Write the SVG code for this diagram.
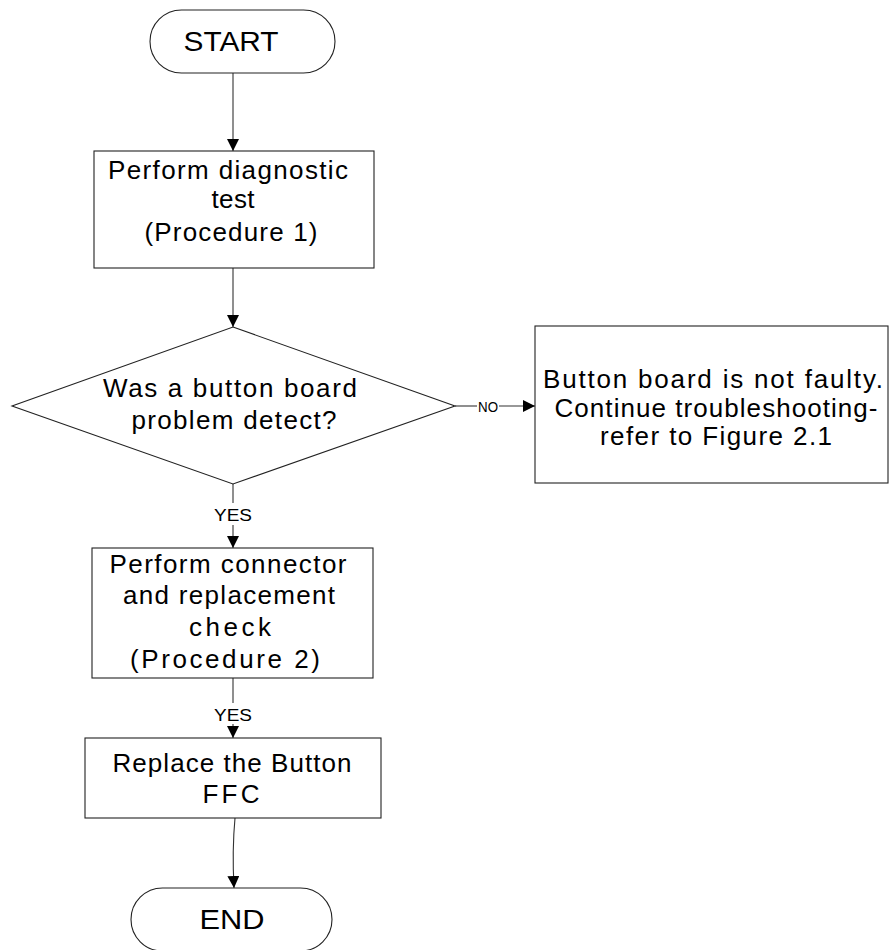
<svg xmlns="http://www.w3.org/2000/svg" width="890" height="950" viewBox="0 0 890 950">
<defs>
<marker id="arr" markerUnits="userSpaceOnUse" markerWidth="14" markerHeight="12" refX="12" refY="6" orient="auto">
<path d="M0,0 L12,6 L0,12 Z" fill="#000"/>
</marker>
<style>
.shape{fill:#fff;stroke:#222;stroke-width:1.1}
.t{font-family:"Liberation Sans",Arial,sans-serif;font-size:26px;fill:#000;text-anchor:middle}
.s{font-family:"Liberation Sans",Arial,sans-serif;font-size:16px;fill:#000;text-anchor:middle}
.c{fill:none;stroke:#333;stroke-width:1.1}
</style>
</defs>
<rect width="890" height="950" fill="#fff"/>
<g id="connectors">
<line class="c" x1="233" y1="73" x2="233" y2="151" marker-end="url(#arr)"/>
<line class="c" x1="233" y1="268" x2="233" y2="327" marker-end="url(#arr)"/>
<line class="c" x1="455" y1="406" x2="477" y2="406"/>
<line class="c" x1="499" y1="406" x2="535" y2="406" marker-end="url(#arr)"/>
<line class="c" x1="233" y1="484" x2="233" y2="503"/>
<line class="c" x1="233" y1="525" x2="233" y2="548" marker-end="url(#arr)"/>
<line class="c" x1="233" y1="678" x2="233" y2="703"/>
<line class="c" x1="233" y1="724" x2="233" y2="738" marker-end="url(#arr)"/>
<path class="c" d="M235,818 Q232,850 234,888" marker-end="url(#arr)"/>
<text class="s" style="font-size:15px" x="488" y="412" textLength="20" lengthAdjust="spacingAndGlyphs">NO</text>
<text class="s" x="233" y="521" textLength="38" lengthAdjust="spacingAndGlyphs">YES</text>
<text class="s" x="233" y="721" textLength="38" lengthAdjust="spacingAndGlyphs">YES</text>
</g>
<g id="start">
<rect class="shape" x="150" y="10" width="185" height="63" rx="31.5" ry="31.5"/>
<text class="t" style="font-size:28px" x="231" y="51" textLength="95" lengthAdjust="spacingAndGlyphs">START</text>
</g>
<g id="diagnostic">
<rect class="shape" x="94" y="151" width="280" height="117"/>
<text class="t" x="228" y="179" textLength="240" lengthAdjust="spacing">Perform diagnostic</text>
<text class="t" x="233" y="208" textLength="43" lengthAdjust="spacing">test</text>
<text class="t" x="231" y="241" textLength="173" lengthAdjust="spacing">(Procedure 1)</text>
</g>
<g id="decision">
<polygon class="shape" points="233,327 455,406 233,484 12,406"/>
<text class="t" x="230" y="397" textLength="254" lengthAdjust="spacing">Was a button board</text>
<text class="t" x="234" y="429" textLength="205" lengthAdjust="spacing">problem detect?</text>
</g>
<g id="notfaulty">
<rect class="shape" x="535" y="326" width="353" height="157"/>
<text class="t" x="713" y="388" textLength="340" lengthAdjust="spacing">Button board is not faulty.</text>
<text class="t" x="716" y="417" textLength="323" lengthAdjust="spacing">Continue troubleshooting-</text>
<text class="t" x="716" y="445" textLength="232" lengthAdjust="spacing">refer to Figure 2.1</text>
</g>
<g id="connector-check">
<rect class="shape" x="92" y="548" width="281" height="130"/>
<text class="t" x="228" y="573" textLength="237" lengthAdjust="spacing">Perform connector</text>
<text class="t" x="229" y="604" textLength="212" lengthAdjust="spacing">and replacement</text>
<text class="t" x="230" y="636" textLength="82" lengthAdjust="spacing">check</text>
<text class="t" x="225" y="668" textLength="190" lengthAdjust="spacing">(Procedure 2)</text>
</g>
<g id="replace">
<rect class="shape" x="85" y="738" width="296" height="80"/>
<text class="t" x="232" y="772" textLength="239" lengthAdjust="spacing">Replace the Button</text>
<text class="t" x="231" y="803" textLength="57" lengthAdjust="spacing">FFC</text>
</g>
<g id="end">
<rect class="shape" x="131" y="888" width="201" height="63" rx="31.5" ry="31.5"/>
<text class="t" style="font-size:28px" x="232" y="929" textLength="65" lengthAdjust="spacingAndGlyphs">END</text>
</g>
</svg>
